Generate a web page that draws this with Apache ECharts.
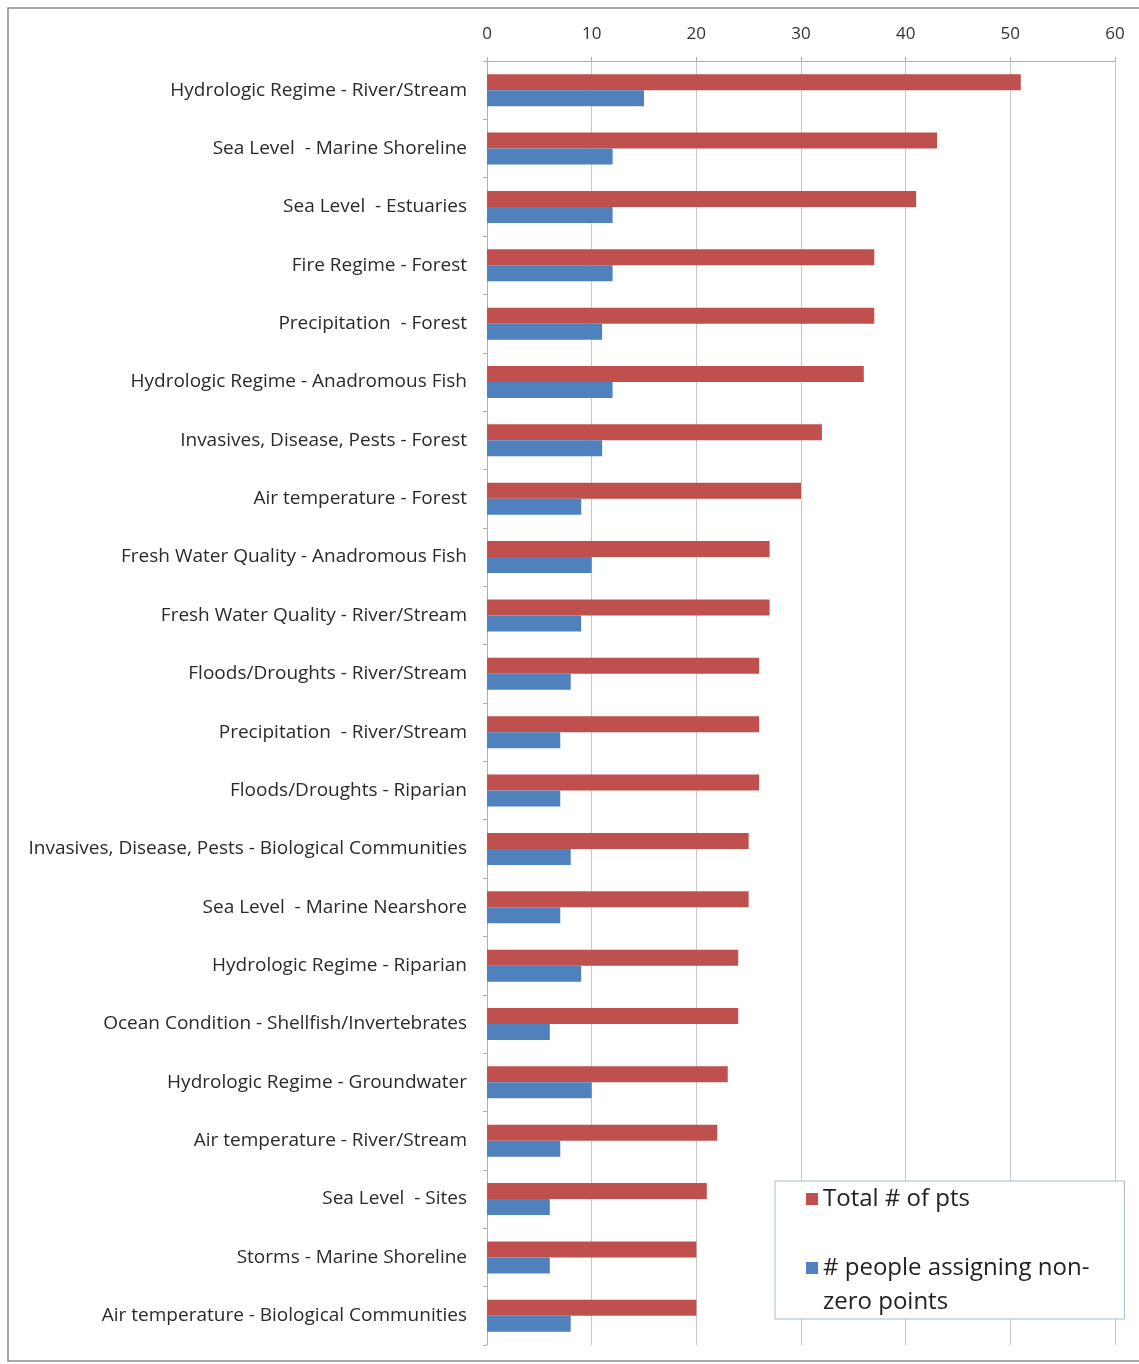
<!DOCTYPE html>
<html>
<head>
<meta charset="utf-8">
<script src="https://cdn.jsdelivr.net/npm/echarts@6/dist/echarts.min.js"></script>
<style>
html,body{margin:0;padding:0;background:#fff;}
#chart{width:1139px;height:1364px;}
</style>
</head>
<body>
<div id="chart"></div>
<script>
const categories = [
  "Hydrologic Regime - River/Stream",
  "Sea Level  - Marine Shoreline",
  "Sea Level  - Estuaries",
  "Fire Regime - Forest",
  "Precipitation  - Forest",
  "Hydrologic Regime - Anadromous Fish",
  "Invasives, Disease, Pests - Forest",
  "Air temperature - Forest",
  "Fresh Water Quality - Anadromous Fish",
  "Fresh Water Quality - River/Stream",
  "Floods/Droughts - River/Stream",
  "Precipitation  - River/Stream",
  "Floods/Droughts - Riparian",
  "Invasives, Disease, Pests - Biological Communities",
  "Sea Level  - Marine Nearshore",
  "Hydrologic Regime - Riparian",
  "Ocean Condition - Shellfish/Invertebrates",
  "Hydrologic Regime - Groundwater",
  "Air temperature - River/Stream",
  "Sea Level  - Sites",
  "Storms - Marine Shoreline",
  "Air temperature - Biological Communities"
];
const totalPts = [51,43,41,37,37,36,32,30,27,27,26,26,26,25,25,24,24,23,22,21,20,20];
const peopleNonZero = [15,12,12,12,11,12,11,9,10,9,8,7,7,8,7,9,6,10,7,6,6,8];
const seriesNames = ["Total # of pts", "# people assigning non-zero points"];
const legendLabels = {
  "Total # of pts": "Total # of pts",
  "# people assigning non-zero points": "\n# people assigning non-\nzero points"
};
const xTicks = {min:0, max:60, interval:10};

const FONT = 'Open Sans, Noto Sans, sans-serif';
const chart = echarts.init(document.getElementById('chart'));
chart.setOption({
  animation:false,
  backgroundColor:'#fff',
  graphic:[{
    type:'rect', shape:{x:8,y:8,width:1140,height:1353},
    style:{fill:'none', stroke:'#8c8c8c', lineWidth:1.5}, silent:true, z:-1
  }],
  grid:{left:487, right:24, top:61, bottom:19, containLabel:false},
  legend:{
    orient:'vertical', left:775, top:1181, height:600,
    padding:[1,35,0,31],
    itemWidth:12, itemHeight:12, itemGap:1,
    icon:'rect',
    borderColor:'#a7b9d1', borderWidth:1, backgroundColor:'#fff',
    formatter:function(n){ return legendLabels[n]; },
    textStyle:{fontFamily:FONT, fontSize:24, color:'#222', lineHeight:34},
    data:seriesNames
  },
  xAxis:{
    type:'value', position:'top', min:xTicks.min, max:xTicks.max, interval:xTicks.interval,
    axisLine:{show:true, lineStyle:{color:'#b0b0b0'}},
    axisTick:{show:true, length:4, lineStyle:{color:'#b0b0b0'}},
    axisLabel:{margin:18, fontFamily:FONT, fontSize:17, color:'#333'},
    splitLine:{show:true, lineStyle:{color:'#c8c8c8'}}
  },
  yAxis:{
    type:'category', inverse:true, data:categories,
    axisLine:{show:true, lineStyle:{color:'#b0b0b0'}},
    axisTick:{show:true, length:4, lineStyle:{color:'#b0b0b0'}},
    axisLabel:{margin:20, fontFamily:FONT, fontSize:19, color:'#2a2a2a'}
  },
  series:[
    {name:seriesNames[0], type:'bar', data:totalPts, barWidth:16, barGap:'0%',
     itemStyle:{color:'#C0504D'}},
    {name:seriesNames[1], type:'bar', data:peopleNonZero, barWidth:16, barGap:'0%',
     itemStyle:{color:'#4F81BD'}}
  ]
});
</script>
</body>
</html>
